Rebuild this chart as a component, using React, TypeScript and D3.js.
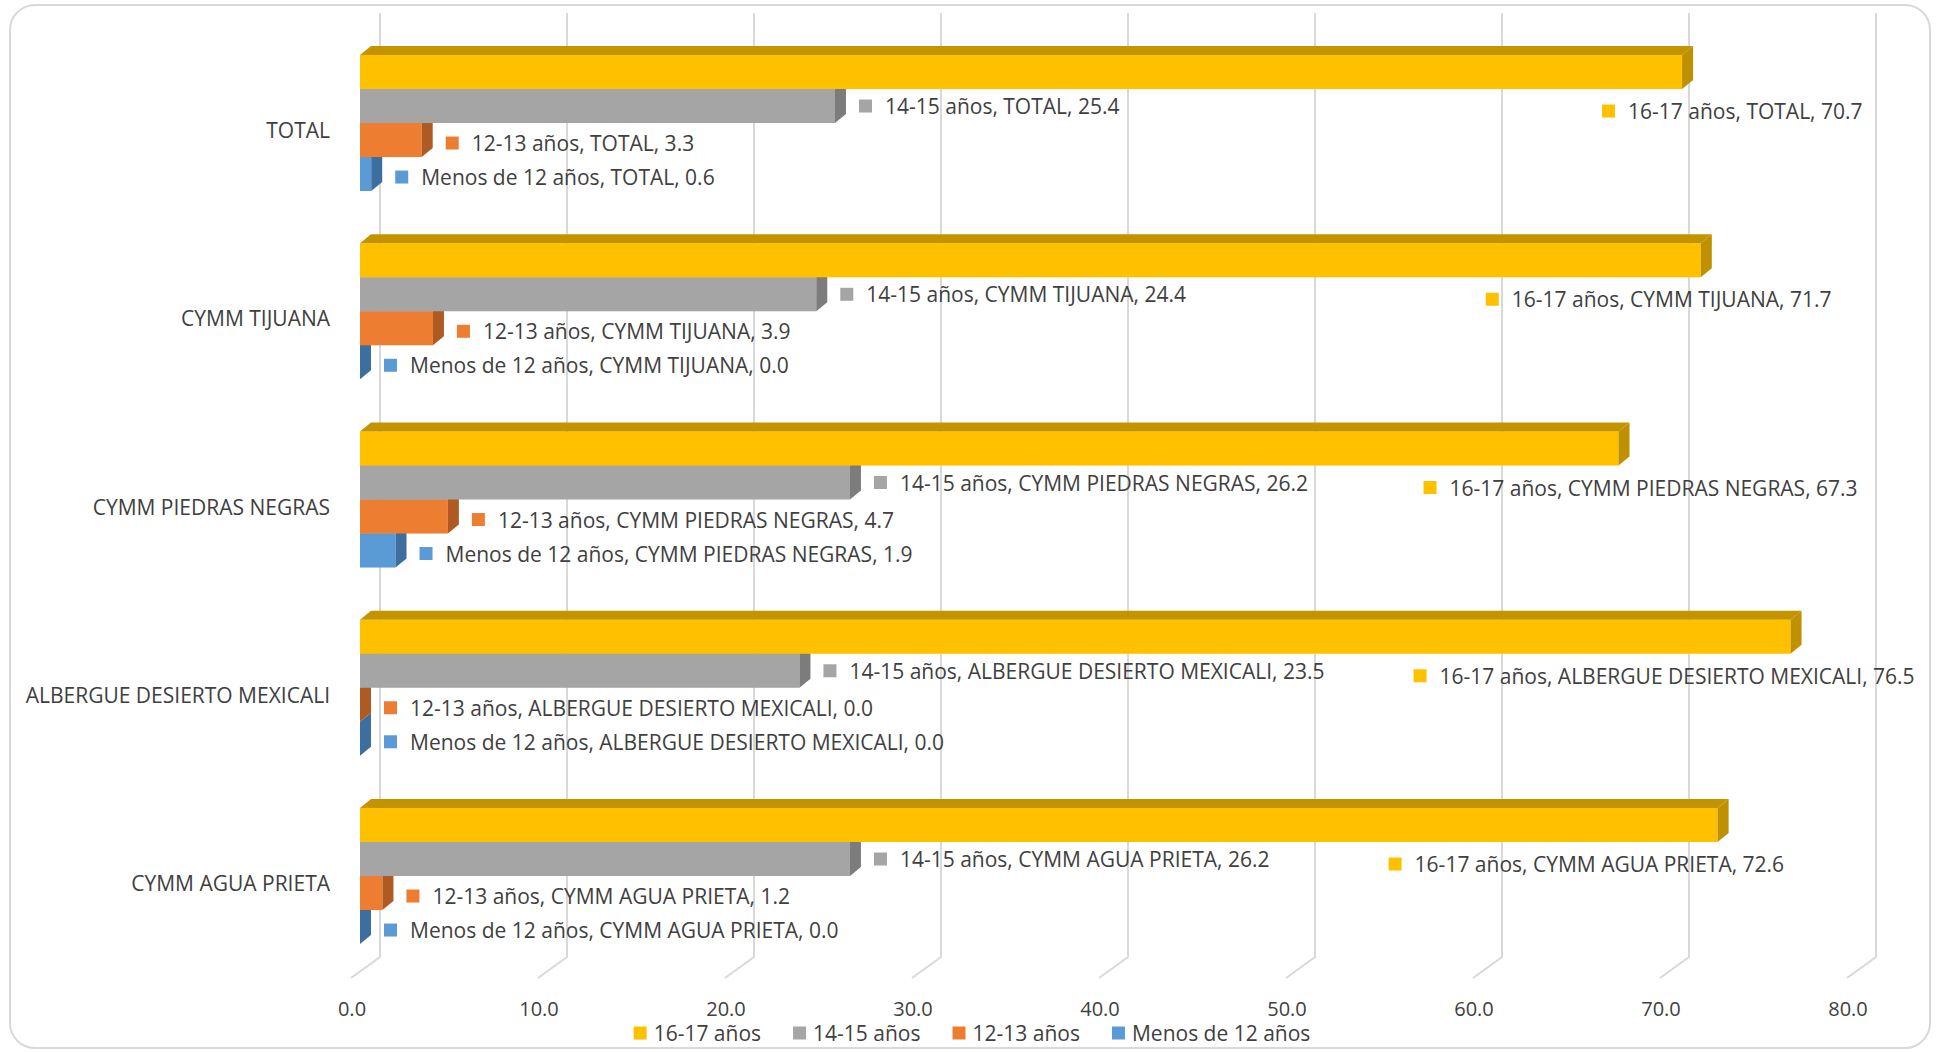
import * as d3 from 'd3';
import React, { useRef, useEffect } from 'react';

const categories = ["TOTAL", "CYMM TIJUANA", "CYMM PIEDRAS NEGRAS", "ALBERGUE DESIERTO MEXICALI", "CYMM AGUA PRIETA"];
const seriesNames = ["16-17 años", "14-15 años", "12-13 años", "Menos de 12 años"];
const age1617 = [70.7, 71.7, 67.3, 76.5, 72.6];
const age1415 = [25.4, 24.4, 26.2, 23.5, 26.2];
const age1213 = [3.3, 3.9, 4.7, 0.0, 1.2];
const under12 = [0.6, 0.0, 1.9, 0.0, 0.0];
const tickValues = [0, 10, 20, 30, 40, 50, 60, 70, 80];

const seriesValues = [age1617, age1415, age1213, under12];
const frontColors = ["#FFC000", "#A5A5A5", "#ED7D31", "#5B9BD5"];
const sideColors = ["#BF9000", "#7C7C7C", "#AE5A22", "#3D6F9E"];
const topColors = ["#C49400", "#888888", "#B9622A", "#4A7FB0"];

// yellow labels were dragged around in the original, shift from bar end
const yellowLabelShift = [-80, -215, -195, -377, -329];

const W = 1939;
const H = 1052;
const FONT = "'Open Sans', 'Noto Sans', sans-serif";
const TEXT = "#404040";
const GRID = "#D9D9D9";

function Chart() {
    const ref = useRef(null);

    useEffect(() => {
        const svg = d3.select(ref.current);
        svg.selectAll("*").remove();

        const depthX = 11;
        const depthY = -9;

        const x = d3.scaleLinear().domain([0, 80]).range([360, 1856]);
        const y = d3.scaleBand().domain(categories)
            .range([28.9, 970.15])
            .paddingInner(0.2775)
            .paddingOuter(0.13875);
        const ys = d3.scaleBand().domain(seriesNames).range([0, y.bandwidth()]);

        // frame
        svg.append("rect")
            .attr("x", 10).attr("y", 5)
            .attr("width", 1920).attr("height", 1043)
            .attr("rx", 25)
            .attr("fill", "#fff")
            .attr("stroke", GRID)
            .attr("stroke-width", 2);

        // back wall gridlines + floor lines
        const grid = svg.append("g");
        tickValues.forEach(t => {
            const bx = x(t) + 20;
            grid.append("path")
                .attr("d", `M${bx},13 L${bx},957 L${x(t) - 9},978`)
                .attr("fill", "none")
                .attr("stroke", GRID)
                .attr("stroke-width", 2);
        });

        // tick labels
        svg.append("g").selectAll("text")
            .data(tickValues)
            .enter()
            .append("text")
            .attr("x", d => x(d) - 8)
            .attr("y", 1008)
            .attr("text-anchor", "middle")
            .attr("dominant-baseline", "central")
            .attr("font-family", FONT)
            .attr("font-size", 20)
            .attr("fill", TEXT)
            .text(d => d3.format(".1f")(d));

        // category labels
        svg.append("g").selectAll("text")
            .data(categories)
            .enter()
            .append("text")
            .attr("x", 330)
            .attr("y", d => y(d) + y.bandwidth() / 2 + 7)
            .attr("text-anchor", "end")
            .attr("dominant-baseline", "central")
            .attr("font-family", FONT)
            .attr("font-size", 21)
            .attr("fill", TEXT)
            .text(d => d);

        // bars, bottom series first so the upper bar covers the top faces
        const bars = svg.append("g");
        categories.forEach((cat, ci) => {
            for (let si = seriesNames.length - 1; si >= 0; si--) {
                const v = seriesValues[si][ci];
                const y0 = y(cat) + ys(seriesNames[si]);
                const h = ys.bandwidth();
                const x0 = x(0);
                const x1 = x(v);
                bars.append("rect")
                    .attr("x", x0).attr("y", y0)
                    .attr("width", x1 - x0).attr("height", h)
                    .attr("fill", frontColors[si]);
                bars.append("path")
                    .attr("d", `M${x1},${y0} L${x1 + depthX},${y0 + depthY} L${x1 + depthX},${y0 + h + depthY} L${x1},${y0 + h} Z`)
                    .attr("fill", sideColors[si]);
                bars.append("path")
                    .attr("d", `M${x0},${y0} L${x0 + depthX},${y0 + depthY} L${x1 + depthX},${y0 + depthY} L${x1},${y0} Z`)
                    .attr("fill", topColors[si]);
            }
        });

        // data labels
        const labels = svg.append("g");
        categories.forEach((cat, ci) => {
            seriesNames.forEach((s, si) => {
                const v = seriesValues[si][ci];
                let mx, my;
                if (si === 0) {
                    mx = x(v) + yellowLabelShift[ci];
                    my = y(cat) + ys(seriesNames[1]) + ys.bandwidth() / 2 + 5;
                } else {
                    mx = x(v) + depthX + 13;
                    my = y(cat) + ys(s) + ys.bandwidth() / 2 + (si > 1 ? 3 : 0);
                }
                labels.append("rect")
                    .attr("x", mx).attr("y", my - 6.5)
                    .attr("width", 13).attr("height", 13)
                    .attr("fill", frontColors[si]);
                labels.append("text")
                    .attr("x", mx + 26)
                    .attr("y", my)
                    .attr("dominant-baseline", "central")
                    .attr("font-family", FONT)
                    .attr("font-size", 21)
                    .attr("fill", TEXT)
                    .text(`${s}, ${cat}, ${d3.format(".1f")(v)}`);
            });
        });

        // legend
        const legend = svg.append("g");
        let lx = 0;
        seriesNames.forEach((s, si) => {
            legend.append("rect")
                .attr("x", lx).attr("y", 1033 - 6.5)
                .attr("width", 13).attr("height", 13)
                .attr("fill", frontColors[si]);
            const t = legend.append("text")
                .attr("x", lx + 20)
                .attr("y", 1033)
                .attr("dominant-baseline", "central")
                .attr("font-family", FONT)
                .attr("font-size", 21)
                .attr("fill", TEXT)
                .text(s);
            const tw = t.node().getComputedTextLength();
            lx += 20 + tw + (si < seriesNames.length - 1 ? 32 : 0);
        });
        legend.attr("transform", `translate(${972 - lx / 2},0)`);
    }, []);

    return (
        <svg ref={ref} width={W} height={H}
            style={{ position: "absolute", left: 0, top: 0, display: "block" }}>
        </svg>
    );
}

export default function App() {
    return <Chart />;
}
